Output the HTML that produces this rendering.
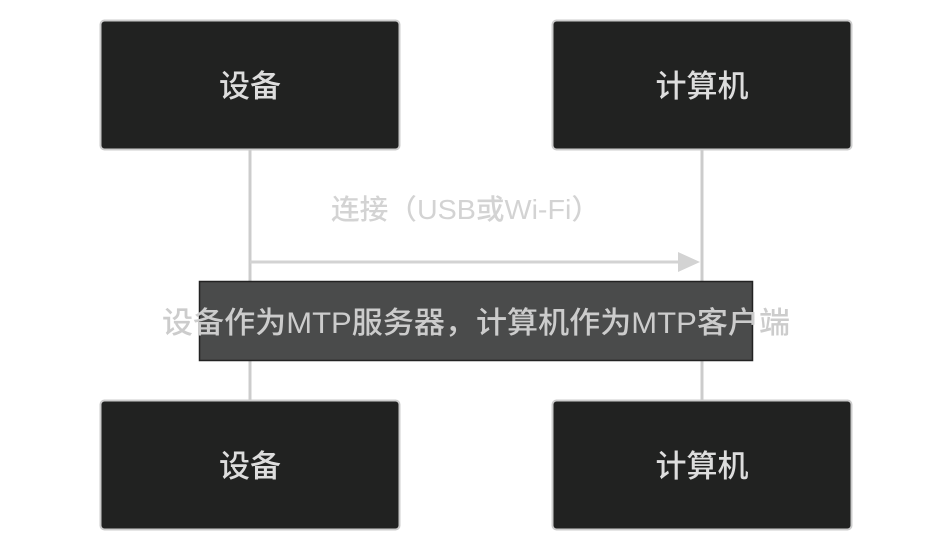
<!DOCTYPE html>
<html><head><meta charset="utf-8"><style>
html,body{margin:0;padding:0;background:#fff;}
svg{display:block;}
text{font-family:"Liberation Sans","Noto Sans CJK SC",sans-serif;}
</style></head><body>
<svg width="952" height="552" viewBox="0 0 952 552" xmlns="http://www.w3.org/2000/svg">
<line x1="250" y1="150" x2="250" y2="400" stroke="#cccccc" stroke-width="3"/>
<line x1="702" y1="150" x2="702" y2="400" stroke="#cccccc" stroke-width="3"/>
<rect x="100.5" y="20.5" width="299" height="129" rx="4" fill="#212221" stroke="#cccccc" stroke-width="2"/>
<rect x="552.5" y="20.5" width="299" height="129" rx="4" fill="#212221" stroke="#cccccc" stroke-width="2"/>
<rect x="100.5" y="400.5" width="299" height="129" rx="4" fill="#212221" stroke="#cccccc" stroke-width="2"/>
<rect x="552.5" y="400.5" width="299" height="129" rx="4" fill="#212221" stroke="#cccccc" stroke-width="2"/>
<g fill="#dddddd" font-size="31" text-anchor="middle" font-weight="500">
<text x="250" y="97">设备</text>
<text x="702" y="97">计算机</text>
<text x="250" y="477">设备</text>
<text x="702" y="477">计算机</text>
</g>
<text x="331" y="219" font-size="28" font-weight="500" fill="#d3d3d3" textLength="269" lengthAdjust="spacingAndGlyphs">连接（USB或Wi-Fi）</text>
<line x1="250" y1="262" x2="680" y2="262" stroke="#d3d3d3" stroke-width="3"/>
<polygon points="678,252 700,262 678,272" fill="#d3d3d3"/>
<rect x="199.5" y="281.5" width="553" height="79" fill="#4a4b4b" stroke="#222" stroke-width="1.5"/>
<text x="162" y="333" font-size="30" font-weight="500" fill="#cccccc" textLength="628" lengthAdjust="spacingAndGlyphs">设备作为MTP服务器，计算机作为MTP客户端</text>
</svg>
</body></html>
